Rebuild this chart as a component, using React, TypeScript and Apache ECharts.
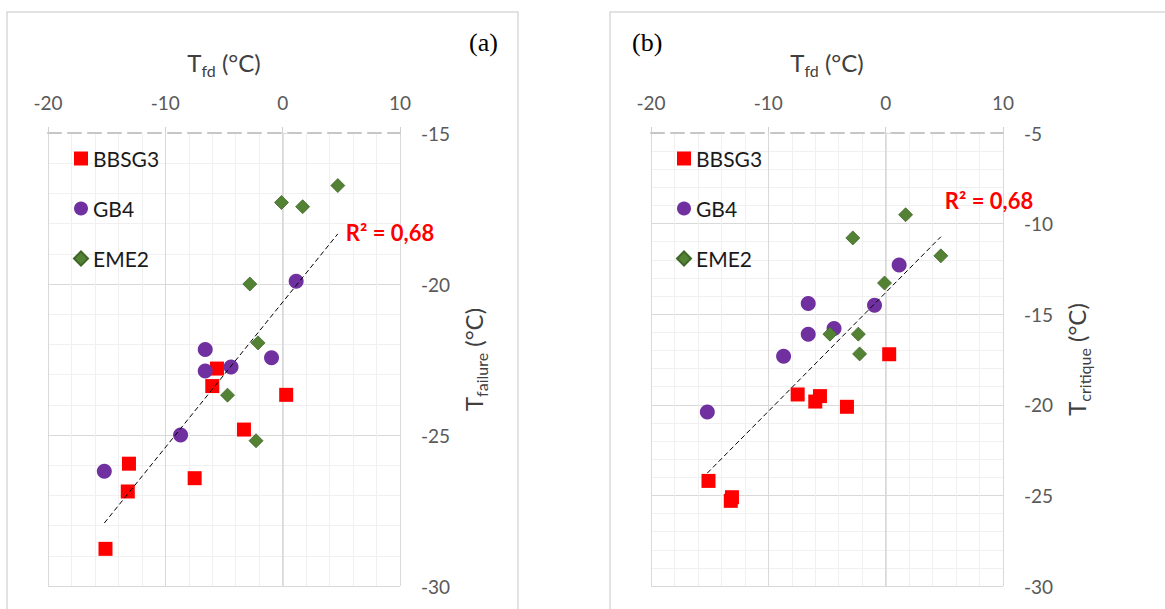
import React, { useEffect, useRef } from "react";
import * as echarts from "echarts";

// Panel (a): T_failure vs T_fd
const bbsg3X = [-15.1, -13.2, -13.1, -7.5, -6.0, -5.6, -3.3, 0.3];
const bbsg3YA = [-28.77, -26.87, -25.95, -26.43, -23.38, -22.8, -24.82, -23.67];
const gb4X = [1.15, -6.6, -6.6, -0.95, -4.4, -8.7, -15.2];
const gb4YA = [-19.91, -22.17, -22.88, -22.44, -22.75, -25.0, -26.2];
const eme2XA = [4.7, -0.1, 1.7, -2.8, -2.1, -4.7, -2.27];
const eme2YA = [-16.74, -17.3, -17.44, -20.0, -21.95, -23.68, -25.19];

// Panel (b): T_critique vs T_fd
const bbsg3YB = [-24.2, -25.3, -25.1, -19.43, -19.82, -19.52, -20.11, -17.21];
const gb4YB = [-12.29, -14.41, -16.1, -14.5, -15.79, -17.32, -20.4];
const eme2XB = [1.7, -2.8, 4.7, -0.1, -4.75, -2.33, -2.22];
const eme2YB = [-9.51, -10.79, -11.78, -13.28, -16.1, -16.1, -17.19];

const r2Text = "R² = 0,68";
const xTicks = { min: -20, max: 10, interval: 10 };
const yTicksA = { min: -30, max: -15, interval: 5 };
const yTicksB = { min: -30, max: -5, interval: 5 };

const zip = (xs: number[], ys: number[]) => xs.map((x, i) => [x, ys[i]]);

function trend(points: number[][]) {
  const n = points.length;
  const mx = points.reduce((s, p) => s + p[0], 0) / n;
  const my = points.reduce((s, p) => s + p[1], 0) / n;
  let sxy = 0;
  let sxx = 0;
  points.forEach((p) => {
    sxy += (p[0] - mx) * (p[1] - my);
    sxx += (p[0] - mx) ** 2;
  });
  const b = sxy / sxx;
  const a = my - b * mx;
  const xs = points.map((p) => p[0]);
  const x0 = Math.min(...xs);
  const x1 = Math.max(...xs);
  return [
    [x0, a + b * x0],
    [x1, a + b * x1],
  ];
}

const FONT = "Lato";

const richName = {
  t: { fontSize: 24, fontFamily: FONT, color: "#404040", lineHeight: 24, verticalAlign: "top" },
  s: { fontSize: 16, fontFamily: FONT, color: "#404040", lineHeight: 28, verticalAlign: "bottom" },
};

export default function App() {
  const ref = useRef<HTMLDivElement>(null);

  useEffect(() => {
    if (!ref.current) return;
    const chart = echarts.init(ref.current, undefined, { renderer: "svg" });

    const dataA = {
      b: zip(bbsg3X, bbsg3YA),
      g: zip(gb4X, gb4YA),
      e: zip(eme2XA, eme2YA),
    };
    const dataB = {
      b: zip(bbsg3X, bbsg3YB),
      g: zip(gb4X, gb4YB),
      e: zip(eme2XB, eme2YB),
    };
    const trendA = trend([...dataA.b, ...dataA.g, ...dataA.e]);
    const trendB = trend([...dataB.b, ...dataB.g, ...dataB.e]);

    const xAxis = (gi: number) => ({
      gridIndex: gi,
      type: "value",
      position: "top",
      ...xTicks,
      name: "{t|T}{s|fd}{t| (°C)}",
      nameLocation: "middle",
      nameGap: 55,
      nameTextStyle: { rich: richName },
      axisLine: { show: true, lineStyle: { color: "#c6c6c6", width: 2, type: [13, 7] } },
      axisTick: { show: true, inside: false, length: 6, lineStyle: { color: "#d0d0d0" } },
      axisLabel: { margin: 21, fontSize: 19, color: "#595959", fontFamily: FONT },
      splitLine: { show: true, lineStyle: { color: "#d9d9d9", width: 1 } },
      minorTick: { show: false, splitNumber: 5 },
      minorSplitLine: { show: true, lineStyle: { color: "#f0f0f0", width: 1 } },
    });

    const yAxis = (gi: number, ticks: any, sub: string) => ({
      gridIndex: gi,
      type: "value",
      position: "right",
      ...ticks,
      name: "{t|T}{s|" + sub + "}{t| (°C)}",
      nameLocation: "middle",
      nameRotate: 90,
      nameGap: 61,
      nameTextStyle: { rich: richName },
      axisLine: { show: true, lineStyle: { color: "#d9d9d9", width: 1.5 } },
      axisTick: { show: true, inside: false, length: 6, lineStyle: { color: "#d9d9d9" } },
      axisLabel: { margin: 21, fontSize: 19, color: "#595959", fontFamily: FONT },
      splitLine: { show: true, showMaxLine: false, lineStyle: { color: "#d9d9d9", width: 1 } },
      minorTick: { show: false, splitNumber: 5 },
      minorSplitLine: { show: true, lineStyle: { color: "#f0f0f0", width: 1 } },
    });

    const scatterSeries = (gi: number, d: any) => [
      {
        name: "BBSG3",
        type: "scatter",
        xAxisIndex: gi,
        yAxisIndex: gi,
        symbol: "rect",
        symbolSize: 14,
        itemStyle: { color: "#ff0000", opacity: 1 },
        data: d.b,
      },
      {
        name: "GB4",
        type: "scatter",
        xAxisIndex: gi,
        yAxisIndex: gi,
        symbol: "circle",
        symbolSize: 15,
        itemStyle: { color: "#7030a0", opacity: 1 },
        data: d.g,
      },
      {
        name: "EME2",
        type: "scatter",
        xAxisIndex: gi,
        yAxisIndex: gi,
        symbol: "diamond",
        symbolSize: 14,
        itemStyle: { color: "#548235", borderColor: "#3f6627", borderWidth: 0.8, opacity: 1 },
        data: d.e,
      },
    ];

    const trendSeries = (gi: number, t: number[][], offset: number[]) => ({
      name: "trend" + gi,
      type: "line",
      xAxisIndex: gi,
      yAxisIndex: gi,
      data: t,
      showSymbol: false,
      symbol: "none",
      silent: true,
      lineStyle: { color: "#000000", width: 1, type: [5, 3] },
      endLabel: {
        show: true,
        formatter: r2Text,
        color: "#ff0000",
        fontWeight: "bold",
        fontSize: 22,
        fontFamily: FONT,
        distance: 8,
        offset,
      },
      z: 5,
    });

    const legend = (left: number) => ({
      left,
      top: 143,
      orient: "vertical",
      itemGap: 29,
      itemWidth: 14,
      itemHeight: 14,
      selectedMode: false,
      data: [
        { name: "BBSG3", icon: "rect" },
        { name: "GB4", icon: "circle" },
        { name: "EME2", icon: "diamond" },
      ],
      textStyle: { fontSize: 21, fontFamily: FONT, color: "#1a1a1a", lineHeight: 20 },
    });

    chart.setOption({
      animation: false,
      backgroundColor: "#ffffff",
      grid: [
        { left: 48, top: 133, width: 352, height: 453 },
        { left: 651, top: 133, width: 352, height: 453 },
      ],
      xAxis: [xAxis(0), xAxis(1)],
      yAxis: [yAxis(0, yTicksA, "failure"), yAxis(1, yTicksB, "critique")],
      legend: [legend(68), legend(671)],
      series: [
        ...scatterSeries(0, dataA),
        trendSeries(0, trendA, [0, -1]),
        ...scatterSeries(1, dataB),
        trendSeries(1, trendB, [-4, -36]),
      ],
      graphic: [
        {
          type: "rect",
          shape: { x: 7, y: 12, width: 511, height: 620 },
          style: { fill: "none", stroke: "#d9d9d9", lineWidth: 1.5 },
          silent: true,
        },
        {
          type: "rect",
          shape: { x: 610, y: 12, width: 600, height: 620 },
          style: { fill: "none", stroke: "#d9d9d9", lineWidth: 1.5 },
          silent: true,
        },
        {
          type: "text",
          x: 469,
          y: 29,
          style: { text: "(a)", font: '26px "Liberation Serif"', fill: "#000000", verticalAlign: "top" },
        },
        {
          type: "text",
          x: 632,
          y: 29,
          style: { text: "(b)", font: '26px "Liberation Serif"', fill: "#000000", verticalAlign: "top" },
        },
      ],
    });

    return () => chart.dispose();
  }, []);

  return (
    <div
      ref={ref}
      style={{ position: "fixed", left: 0, top: 0, width: 1165, height: 609, background: "#fff" }}
    />
  );
}
